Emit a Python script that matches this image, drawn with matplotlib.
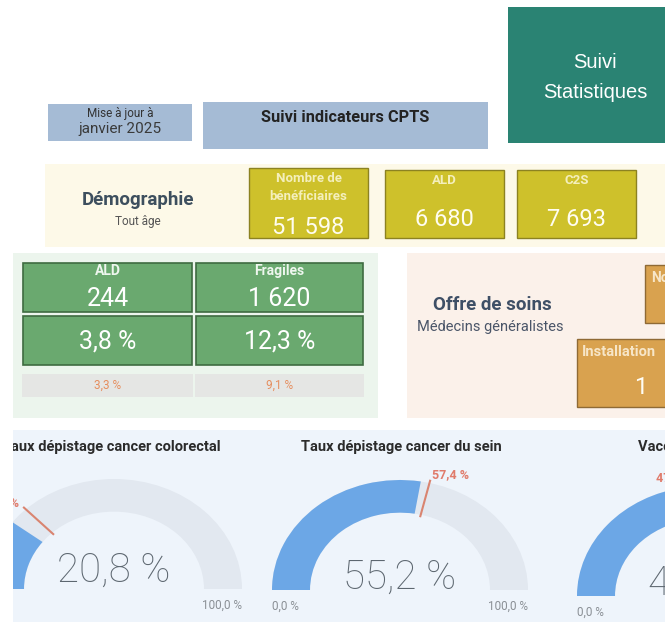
import matplotlib
matplotlib.use("Agg")
import matplotlib.pyplot as plt
from matplotlib.patches import Rectangle, Wedge
import numpy as np

# ---------------- data ----------------
update_label = ["Mise à jour à", "janvier 2025"]
header_title = "Suivi indicateurs CPTS"
corner_title = "Suivi\nStatistiques"

demo_title = "Démographie"
demo_subtitle = "Tout âge"
demo_labels = ["Nombre de\nbénéficiaires", "ALD", "C2S"]
demo_values = [51598, 6680, 7693]

fragile_labels = ["ALD", "Fragiles"]
fragile_counts = [244, 1620]
fragile_pcts = [3.8, 12.3]
fragile_ref_pcts = [3.3, 9.1]

offre_title = "Offre de soins"
offre_subtitle = "Médecins généralistes"
offre_labels = ["Nombre", "Installation"]
offre_values = [None, 1]

gauge_titles = ["Taux dépistage cancer colorectal",
                "Taux dépistage cancer du sein",
                "Vaccination grippe"]
gauge_values = [20.8, 55.2, 44.9]
gauge_targets = [25.8, 57.4, 47.3]
gauge_min = 0.0
gauge_max = 100.0


def fr_int(v):
    return f"{v:,}".replace(",", " ")


def fr_pct(v):
    return f"{v:.1f} %".replace(".", ",")


# ---------------- figure ----------------
W, H = 665, 622
fig = plt.figure(figsize=(W / 100, H / 100), dpi=100)
fig.patch.set_facecolor("white")
ax = fig.add_axes([0, 0, 1, 1])
ax.set_xlim(0, W)
ax.set_ylim(H, 0)
ax.axis("off")

FONT = ["Roboto", "DejaVu Sans"]


def box(x0, y0, x1, y1, fc, ec="none", lw=0, z=1):
    r = Rectangle((x0, y0), x1 - x0, y1 - y0, facecolor=fc, edgecolor=ec,
                  linewidth=lw, zorder=z)
    ax.add_patch(r)
    return r


def txt(x, y, s, size, color, weight="normal", ha="center", va="center",
        family=FONT, clip=None, z=5):
    t = ax.text(x, y, s, fontsize=size, color=color, fontweight=weight,
                ha=ha, va=va, family=family, zorder=z)
    if clip is not None:
        t.set_clip_on(True)
        t.set_clip_path(clip)
    return t


# header
box(508, 7, 665, 143, "#2A8373")
txt(595, 62, corner_title.split("\n")[0], 14.5, "white",
    family=["Liberation Sans"])
txt(595, 92, corner_title.split("\n")[1], 14.5, "white",
    family=["Liberation Sans"])

box(48, 104, 192, 141, "#A5BBD5")
txt(120, 113, update_label[0], 8.5, "#333333")
txt(120, 129, update_label[1], 11, "#3A3A3A")
box(203, 102, 488, 149, "#A5BBD5")
txt(345, 118, header_title, 11.8, "#222222", weight="bold")

# demography band
box(45, 164, 665, 247, "#FDF9E8")
txt(138, 200, demo_title, 13.5, "#3D4F5E", weight="bold")
txt(138, 222, demo_subtitle, 8.5, "#555555")
demo_boxes = [(249, 168, 368, 238), (385, 170, 504, 238), (517, 170, 636, 238)]
for (x0, y0, x1, y1), lab, val in zip(demo_boxes, demo_labels, demo_values):
    box(x0, y0, x1, y1, "#CEC12B", ec="#8C8221", lw=1)
    cx = (x0 + x1) / 2
    if "\n" in lab:
        l1, l2 = lab.split("\n")
        txt(cx, y0 + 11, l1, 9.5, "#F4EFBC", weight="bold")
        txt(cx, y0 + 28, l2, 9.5, "#F4EFBC", weight="bold")
        txt(cx, y1 - 11, fr_int(val), 17, "#FFFDF0")
    else:
        txt(cx, y0 + 11, lab, 9.5, "#F4EFBC", weight="bold")
        txt(cx, y1 - 19, fr_int(val), 17, "#FFFDF0")

# fragile panel
box(13, 253, 378, 418, "#ECF5ED")
cols = [(23, 192), (196, 363)]
for (x0, x1), lab, cnt, pct, ref in zip(cols, fragile_labels, fragile_counts,
                                         fragile_pcts, fragile_ref_pcts):
    cx = (x0 + x1) / 2
    box(x0, 263, x1, 312, "#6AA96F", ec="#3E6B41", lw=1.2)
    box(x0, 316, x1, 365, "#6AA96F", ec="#3E6B41", lw=1.2)
    txt(cx, 271, lab, 10, "#EEF6EE", weight="bold")
    txt(cx, 299, fr_int(cnt), 18, "#FFFFFF")
    txt(cx, 342, fr_pct(pct), 18, "#FFFFFF")
    box(x0 - 1, 374, x1 + 1, 397, "#E5E6E4")
    txt(cx, 385, fr_pct(ref), 8.5, "#E58E5E")

# offre de soins panel
box(407, 253, 665, 418, "#FBF1EA")
txt(492, 305, offre_title, 13.5, "#3E4F66", weight="bold")
txt(490, 327, offre_subtitle, 10.5, "#4A5568")
box(645, 265, 700, 323, "#D9A24F", ec="#8F6A35", lw=1)
txt(651, 278, offre_labels[0], 10, "#F7E6C8", weight="bold", ha="left")
box(577, 339, 700, 407, "#D9A24F", ec="#8F6A35", lw=1)
txt(582, 352, offre_labels[1], 10.5, "#F7E6C8", weight="bold", ha="left")
txt(641, 387, fr_int(offre_values[1]), 17, "#FFFDF5")

# gauges panel
panel = box(13, 430, 700, 640, "#EEF4FB")
gauge_cx = [114, 400, 705]
gauge_by = [589, 590, 596]
title_cx = [111, 401, 700]
value_dy = [0.17, 0.11, 0.11]
axes_px = [(13, 262), (265, 540), (545, 665)]
RX, RY = 128.0, 110.0
TOP, BOT = 455, 622

for i in range(3):
    txt(title_cx[i], 447, gauge_titles[i], 10.5, "#2B2B2B", weight="bold",
        clip=panel)
    L, R = axes_px[i]
    cx, by = gauge_cx[i], gauge_by[i]
    g = fig.add_axes([L / W, 1 - BOT / H, (R - L) / W, (BOT - TOP) / H])
    g.set_xlim((L - cx) / RX, (R - cx) / RX)
    g.set_ylim(-(BOT - by) / RY, (by - TOP) / RY)
    g.axis("off")
    g.patch.set_alpha(0)
    span = gauge_max - gauge_min
    frac = (gauge_values[i] - gauge_min) / span
    tfrac = (gauge_targets[i] - gauge_min) / span
    g.add_patch(Wedge((0, 0), 1.0, 0, 180, width=0.297,
                      facecolor="#E2E8F0", edgecolor="none"))
    g.add_patch(Wedge((0, 0), 1.0, 180 - 180 * frac, 180, width=0.297,
                      facecolor="#6CA7E6", edgecolor="none"))
    ang = np.deg2rad(180 - 180 * tfrac)
    g.plot([0.68 * np.cos(ang), 1.03 * np.cos(ang)],
           [0.68 * np.sin(ang), 1.03 * np.sin(ang)],
           color="#D98470", lw=1.5, solid_capstyle="butt")
    ha = "left" if np.cos(ang) >= 0 else "right"
    g.text(1.08 * np.cos(ang), 1.08 * np.sin(ang), fr_pct(gauge_targets[i]),
           fontsize=9, color="#E07B6B", fontweight="bold", ha=ha,
           va="center", family=FONT, clip_on=True)
    g.text(0, value_dy[i], fr_pct(gauge_values[i]), fontsize=29,
           color="#5D6770", fontweight="light", ha="center", va="center",
           family=FONT, clip_on=True)
    g.text(-1.0, -0.15, fr_pct(gauge_min), fontsize=8.5, color="#8A8F95",
           ha="left", va="center", family=FONT, clip_on=True)
    g.text(1.0, -0.15, fr_pct(gauge_max), fontsize=8.5, color="#8A8F95",
           ha="right", va="center", family=FONT, clip_on=True)

fig.savefig("out.png", dpi=100, facecolor="white")
